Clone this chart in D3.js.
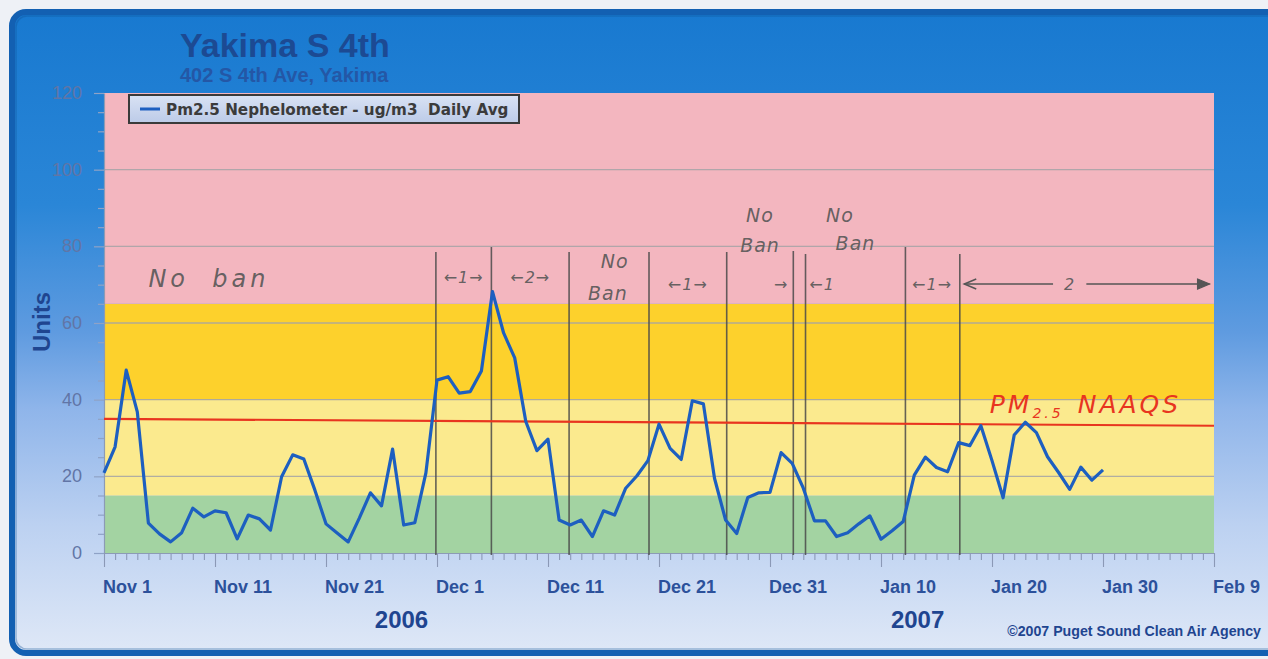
<!DOCTYPE html>
<html><head><meta charset="utf-8">
<script src="https://cdn.jsdelivr.net/npm/d3@7"></script>
<style>
html,body{margin:0;padding:0;background:#eef1f6;}
svg{display:block;}
</style></head>
<body>
<svg id="chart" width="1268" height="659"></svg>
<script>
// ---------- data ----------
const startDate = "2006-11-01";
const pm25DailyAvg = [20.9,27.7,47.7,36.8,7.8,5.0,2.9,5.3,11.7,9.4,
  11.0,10.5,3.7,9.9,8.9,6.0,19.9,25.6,24.5,16.4,
  7.6,5.2,2.9,9.1,15.7,12.3,27.1,7.3,7.9,20.9,
  45.1,46.0,41.7,42.1,47.5,68.2,57.4,50.9,34.3,26.7,
  29.7,8.6,7.3,8.6,4.3,11.0,9.9,16.9,20.1,24.1,
  33.6,27.3,24.4,39.7,38.9,19.5,8.6,5.1,14.5,15.7,
  15.8,26.2,23.4,16.9,8.4,8.4,4.3,5.3,7.6,9.7,
  3.6,5.8,8.2,20.3,25.0,22.3,21.2,28.8,28.0,33.2,
  24.1,14.4,30.8,34.1,31.4,25.1,21.0,16.6,22.4,19.0,21.7];
const xTickDates = ["2006-11-01","2006-11-11","2006-11-21","2006-12-01","2006-12-11","2006-12-21","2006-12-31","2007-01-10","2007-01-20","2007-01-30","2007-02-09"];
const xTickLabels = ["Nov 1","Nov 11","Nov 21","Dec 1","Dec 11","Dec 21","Dec 31","Jan 10","Jan 20","Jan 30","Feb 9"];
const yTicks = [0,20,40,60,80,100,120];
const yearLabels = ["2006","2007"];
const yearLabelDays = [26.8,73.3];
// AQI bands [low, high]
const bandLows = [0,15,40,65];
const bandHighs = [15,40,65,120];
const bandNames = ["good","moderate","usg","unhealthy"];
// hand-drawn annotations (days after Nov 1)
const banLineDays = [29.9,34.9,41.9,49.1,56.1,62.1,63.2,72.2,77.1];
const banLineTops = [78.5,79.8,78.5,78.5,78.5,78.8,78.0,79.8,78.0];
const noteTexts = ["No  ban","←1→","←2→","No","Ban","←1→","No","Ban","→","←1","No","Ban","←1→","2"];
const noteDays  = [4.0,32.4,38.4,46.0,45.4,52.6,59.1,59.1,61.0,64.7,66.3,67.7,74.6,87.0];
const noteVals  = [69.5,70.4,70.4,74.4,66.0,68.6,86.4,78.5,68.6,68.6,86.4,79.0,68.6,68.6];
const naaqsDays = [0,100];
const naaqsVals = [35.0,33.2];

// ---------- layout ----------
const W = 1268, H = 659;
const L = 104, R = 1214, T = 93, B = 553;
const svg = d3.select("#chart");
const parse = d3.utcParse("%Y-%m-%d");
const d0 = parse(startDate);
const dayToDate = d => new Date(d0.getTime() + d*86400000);

const x = d3.scaleUtc().domain([parse("2006-11-01"), parse("2007-02-09")]).range([L, R]);
const y = d3.scaleLinear().domain([0,120]).range([B, T]);

// background panel
const defs = svg.append("defs");
const g1 = defs.append("linearGradient").attr("id","panelGrad").attr("x1",0).attr("y1",0).attr("x2",0).attr("y2",1);
[[0,"#1879d0"],[0.3,"#2a86d7"],[0.5,"#5f9be0"],[0.62,"#8fb5ea"],[0.8,"#bcd1f1"],[1,"#dfe8f7"]]
  .forEach(s=>g1.append("stop").attr("offset",s[0]).attr("stop-color",s[1]));
const gl = defs.append("linearGradient").attr("id","legGrad").attr("x1",0).attr("y1",0).attr("x2",0).attr("y2",1);
gl.append("stop").attr("offset",0).attr("stop-color","#d9e2f4");
gl.append("stop").attr("offset",1).attr("stop-color","#bccbe8");

svg.append("rect").attr("width",W).attr("height",H).attr("fill","#eef1f6");
svg.append("rect").attr("x",12).attr("y",12).attr("width",1290).attr("height",641)
  .attr("rx",14).attr("fill","url(#panelGrad)").attr("stroke","#1360b2").attr("stroke-width",6);
svg.append("rect").attr("x",16).attr("y",16).attr("width",1290).attr("height",633)
  .attr("rx",11).attr("fill","none").attr("stroke","#0d4f96").attr("stroke-opacity",0.35).attr("stroke-width",1.5);

// bands
const bandColors = {good:"#a3d3a2", moderate:"#fbea8e", usg:"#fdd12c", unhealthy:"#f3b6bf"};
svg.append("g").selectAll("rect").data(bandNames).join("rect")
  .attr("x",L).attr("width",R-L)
  .attr("y",(d,i)=>y(bandHighs[i])).attr("height",(d,i)=>y(bandLows[i])-y(bandHighs[i]))
  .attr("fill",d=>bandColors[d]);

// gridlines
svg.append("g").selectAll("line").data(yTicks.filter(v=>v>0&&v<120)).join("line")
  .attr("x1",L).attr("x2",R).attr("y1",d=>y(d)).attr("y2",d=>y(d))
  .attr("stroke","#a3a3a6").attr("stroke-width",1.3).attr("stroke-opacity",0.85);

// y axis
const yAxis = d3.axisLeft(y).tickValues(d3.range(0,121,5)).tickSize(0).tickFormat("");
const ya = svg.append("g").attr("transform",`translate(${L},0)`).call(yAxis);
ya.select(".domain").attr("stroke","#8c9bb5").attr("stroke-width",1.2);
ya.selectAll(".tick line").attr("x2",d=>d%20===0?-10:-6).attr("stroke","#8fa2c6").attr("stroke-width",1.2);
svg.append("g").selectAll("text").data(yTicks).join("text")
  .attr("x",L-22).attr("y",d=>y(d)+6).attr("text-anchor","end")
  .attr("font-family","Liberation Sans Narrow, Liberation Sans, sans-serif").attr("font-size",18)
  .attr("fill","#6175a6").text(d=>d);

// x axis
const xa = svg.append("g").attr("transform",`translate(0,${B})`)
  .call(d3.axisBottom(x).ticks(d3.utcDay.every(1)).tickSize(0).tickFormat(""));
xa.select(".domain").attr("stroke","#8c9bb5").attr("stroke-width",1.2);
const tickSet = new Set(xTickDates.map(s=>parse(s).getTime()));
xa.selectAll(".tick line").attr("y2",d=>tickSet.has(d.getTime())?14:7)
  .attr("stroke","#8b99b6").attr("stroke-width",1.1);
svg.append("g").selectAll("text").data(xTickDates).join("text")
  .attr("x",d=>x(parse(d))-1).attr("y",B+40)
  .attr("font-family","Liberation Sans Narrow, Liberation Sans, sans-serif").attr("font-weight","bold")
  .attr("font-size",18).attr("fill","#2c519b").text((d,i)=>xTickLabels[i]);

// year labels
svg.append("g").selectAll("text").data(yearLabels).join("text")
  .attr("x",(d,i)=>x(dayToDate(yearLabelDays[i]))).attr("y",628).attr("text-anchor","middle")
  .attr("font-family","Liberation Sans Narrow, Liberation Sans, sans-serif").attr("font-weight","bold")
  .attr("font-size",24).attr("fill","#1f4590").text(d=>d);

// copyright
svg.append("text").attr("x",1261).attr("y",636).attr("text-anchor","end")
  .attr("font-family","Liberation Sans Narrow, Liberation Sans, sans-serif").attr("font-weight","bold")
  .attr("font-size",14.2).attr("fill","#1f4590").text("©2007 Puget Sound Clean Air Agency");

// title
svg.append("text").attr("x",180).attr("y",57)
  .attr("font-family","Liberation Sans, Arial, sans-serif").attr("font-weight","bold")
  .attr("font-size",34).attr("fill","#1c4a93").text("Yakima S 4th");
svg.append("text").attr("x",180).attr("y",82)
  .attr("font-family","Liberation Sans Narrow, Liberation Sans, sans-serif").attr("font-weight","bold")
  .attr("font-size",20).attr("fill","#2457a6").text("402 S 4th Ave, Yakima");

// y title
svg.append("text").attr("transform","translate(50,322) rotate(-90)").attr("text-anchor","middle")
  .attr("font-family","Liberation Sans, Arial, sans-serif").attr("font-weight","bold")
  .attr("font-size",24).attr("fill","#1f4590").text("Units");

// ban period lines (hand drawn)
svg.append("g").selectAll("line").data(banLineDays).join("line")
  .attr("x1",d=>x(dayToDate(d))).attr("x2",d=>x(dayToDate(d)))
  .attr("y1",(d,i)=>y(banLineTops[i])).attr("y2",B+2)
  .attr("stroke","#4a4a4a").attr("stroke-width",1.6).attr("stroke-opacity",0.85);

// NAAQS red line
svg.append("line")
  .attr("x1",x(dayToDate(naaqsDays[0]))).attr("y1",y(naaqsVals[0]))
  .attr("x2",x(dayToDate(naaqsDays[1]))).attr("y2",y(naaqsVals[1]))
  .attr("stroke","#e8351f").attr("stroke-width",2.2);

// data line
const line = d3.line().x((d,i)=>x(dayToDate(i))).y(d=>y(d));
svg.append("path").datum(pm25DailyAvg).attr("d",line)
  .attr("fill","none").attr("stroke","#1d5fc0").attr("stroke-width",3.2).attr("stroke-linejoin","round");

// hand-written notes
svg.append("g").selectAll("text").data(noteTexts).join("text")
  .attr("x",(d,i)=>x(dayToDate(noteDays[i]))).attr("y",(d,i)=>y(noteVals[i]))
  .attr("text-anchor",(d,i)=>i===0?"start":"middle")
  .attr("font-family","DejaVu Sans, sans-serif").attr("font-style","italic")
  .attr("font-size",(d,i)=>i===0?24:(/^[NB]/.test(d)?19:16))
  .attr("letter-spacing",(d,i)=>i===0?4:1).attr("xml:space","preserve")
  .attr("fill","#555").attr("fill-opacity",0.9).text(d=>d);
// long arrow for period "2"
const arrY = y(68.6)-6;
const ax1 = x(dayToDate(77.5)), ax2 = x(dayToDate(99.6));
svg.append("line").attr("x1",ax1).attr("x2",x(dayToDate(85.5))).attr("y1",arrY).attr("y2",arrY).attr("stroke","#555").attr("stroke-width",1.5);
svg.append("line").attr("x1",x(dayToDate(88.5))).attr("x2",ax2).attr("y1",arrY).attr("y2",arrY).attr("stroke","#555").attr("stroke-width",1.5);
svg.append("path").attr("d",`M${ax1+12},${arrY-5}L${ax1},${arrY}L${ax1+12},${arrY+5}`).attr("fill","none").attr("stroke","#555").attr("stroke-width",1.5);
svg.append("path").attr("d",`M${ax2-12},${arrY-5}L${ax2},${arrY}L${ax2-12},${arrY+5}Z`).attr("fill","#555").attr("stroke","#555").attr("stroke-width",1.2);

// PM2.5 NAAQS label
const naaqsLabel = svg.append("text").attr("x",x(dayToDate(79.8))).attr("y",y(36.6))
  .attr("font-family","DejaVu Sans, sans-serif").attr("font-style","italic")
  .attr("font-size",25).attr("fill","#e8351f").attr("letter-spacing",3);
naaqsLabel.append("tspan").text("PM");
naaqsLabel.append("tspan").attr("font-size",14).attr("dy",5).text("2.5");
naaqsLabel.append("tspan").attr("dy",-5).attr("dx",14).text("NAAQS");

// legend
svg.append("rect").attr("x",129).attr("y",95).attr("width",390).attr("height",28)
  .attr("fill","url(#legGrad)").attr("stroke","#3a3a3a").attr("stroke-width",2);
svg.append("line").attr("x1",140).attr("x2",160).attr("y1",109).attr("y2",109)
  .attr("stroke","#1d5fc0").attr("stroke-width",3);
svg.append("text").attr("x",166).attr("y",115)
  .attr("font-family","DejaVu Sans, Verdana, sans-serif").attr("font-weight","bold")
  .attr("font-size",15.2).attr("fill","#3b3b3b").attr("xml:space","preserve")
  .text("Pm2.5 Nephelometer - ug/m3  Daily Avg");
</script>
</body></html>
